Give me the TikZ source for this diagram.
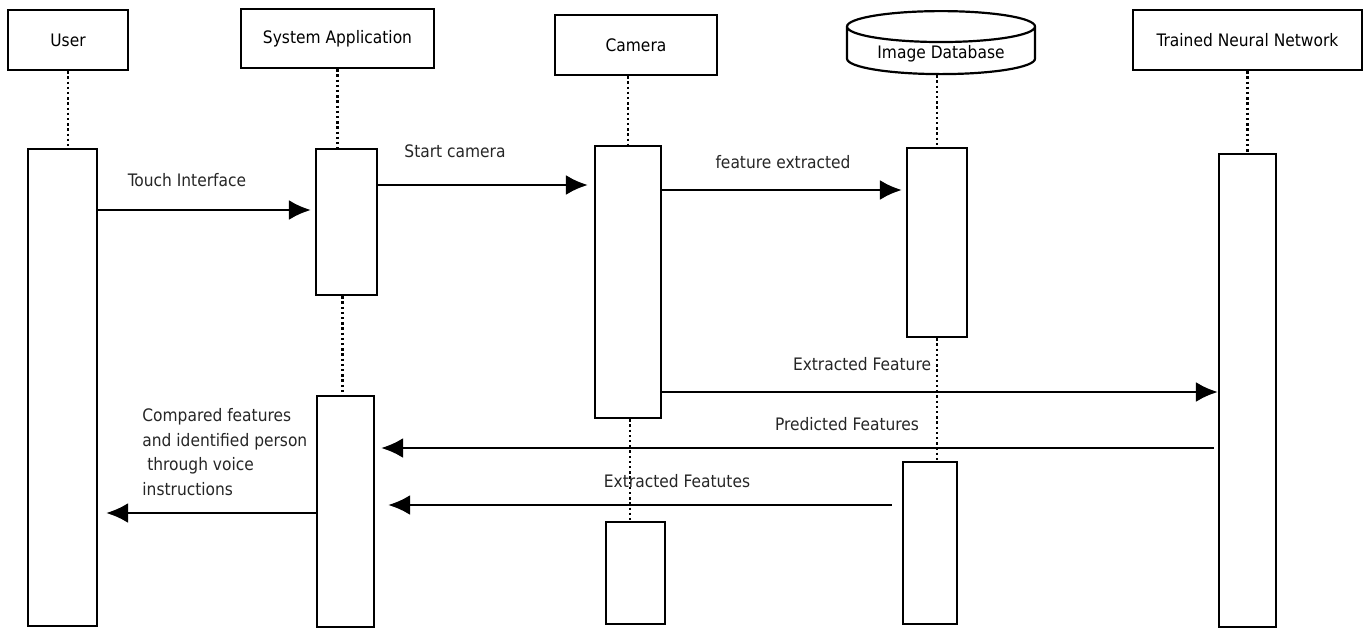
\documentclass[tikz,border=0pt]{standalone}
\usepackage{fontspec}
\setmainfont{DejaVu Sans Condensed}
\usetikzlibrary{positioning}
\usetikzlibrary{shapes.geometric}
\usetikzlibrary{arrows.meta}
\tikzset{>={Latex[length=11pt,width=10pt]}}
\tikzstyle{head} = [rectangle, draw=black, line width=1.1pt, minimum height=30pt, font=\fontsize{8.6}{10}\selectfont]
\tikzstyle{act} = [rectangle, draw=black, line width=1.1pt, anchor=north]
\tikzstyle{life} = [-, line width=1.3pt, dash pattern=on 1.2pt off 1.4pt]
\tikzstyle{msg} = [->, line width=1.4pt]
\tikzstyle{lbl} = [font=\fontsize{8.6}{12.3}\selectfont, text=black!85]

\begin{document}
\begin{tikzpicture}[x=0.5pt, y=-0.5pt]
\useasboundingbox (0,0) rectangle (1370,628);

% participants
\node [head, minimum width=60pt] (UserHead) at (68, 40) {User};
\node [head, minimum width=96.5pt, minimum height=29.5pt] (AppHead) at (337.5, 38.5) {System Application};
\node [head, minimum width=81pt] (CamHead) at (636, 45) {Camera};
\node [head, shape=cylinder, shape border rotate=90, aspect=0.22, inner ysep=1pt, minimum width=94pt, minimum height=31.5pt, anchor=north] (DbHead) at (941, 10) {Image Database};
\node [head, minimum width=114.5pt] (NetHead) at (1247.5, 40) {Trained Neural Network};

% activation bars
\node [act, minimum width=34.5pt, minimum height=238.5pt] (UserAct) at (62.5, 148) {};
\node [act, minimum width=30.5pt, minimum height=73pt] (AppAct1) at (346.5, 148) {};
\node [act, minimum width=28.5pt, minimum height=115.5pt] (AppAct2) at (345.5, 395) {};
\node [act, minimum width=33pt, minimum height=136pt] (CamAct1) at (628, 145) {};
\node [act, minimum width=29.5pt, minimum height=51pt] (CamAct2) at (635.5, 521) {};
\node [act, minimum width=30pt, minimum height=94.5pt] (DbAct1) at (937, 147) {};
\node [act, minimum width=27pt, minimum height=81pt] (DbAct2) at (930, 461) {};
\node [act, minimum width=28.5pt, minimum height=236.5pt] (NetAct) at (1247.5, 153) {};

% lifelines
\draw [life] (UserHead.south) -- (UserHead.south |- UserAct.north);
\draw [life] (AppHead.south) -- (AppHead.south |- AppAct1.north);
\draw [life] ([xshift=-2pt]AppAct1.south) -- ([xshift=-2pt]AppAct1.south |- AppAct2.north);
\draw [life] (CamAct1.north |- CamHead.south) -- (CamAct1.north);
\draw [life] ([xshift=1pt]CamAct1.south) -- ([xshift=1pt]CamAct1.south |- CamAct2.north);
\draw [life] (DbAct1.north |- DbHead.south) -- (DbAct1.north);
\draw [life] (DbAct1.south) -- (DbAct1.south |- DbAct2.north);
\draw [life] (NetHead.south) -- (NetHead.south |- NetAct.north);

% messages
\draw [msg, shorten >=2pt] (UserAct.east |- 0,210) -- (AppAct1.west |- 0,210);
\draw [msg, shorten >=3pt] (AppAct1.east |- 0,185) -- (CamAct1.west |- 0,185);
\draw [msg, shorten >=2pt] (CamAct1.east |- 0,190) -- (DbAct1.west |- 0,190);
\draw [msg] (CamAct1.east |- 0,392) -- (NetAct.west |- 0,392);
\draw [msg, shorten <=2pt, shorten >=3pt] (NetAct.west |- 0,448) -- (AppAct2.east |- 0,448);
\draw [msg, shorten <=5pt, shorten >=6.5pt] (DbAct2.west |- 0,505) -- (AppAct2.east |- 0,505);
\draw [msg, shorten >=4pt] (AppAct2.west |- 0,513) -- (UserAct.east |- 0,513);

% message labels
\node [lbl] (tTouch) at (187, 180) {Touch Interface};
\node [lbl] (tStart) at (455, 151) {Start camera};
\node [lbl] (tFeat) at (783, 162) {feature extracted};
\node [lbl] (tExtr) at (862, 364) {Extracted Feature};
\node [lbl] (tPred) at (847, 424) {Predicted Features};
\node [lbl] (tExtr2) at (677, 481) {Extracted Featutes};
\node [lbl, align=left, anchor=north west, inner sep=0pt] (tComp) at (142, 408) {Compared features\\and identified person\\\ through voice\\instructions};
\end{tikzpicture}
\end{document}
